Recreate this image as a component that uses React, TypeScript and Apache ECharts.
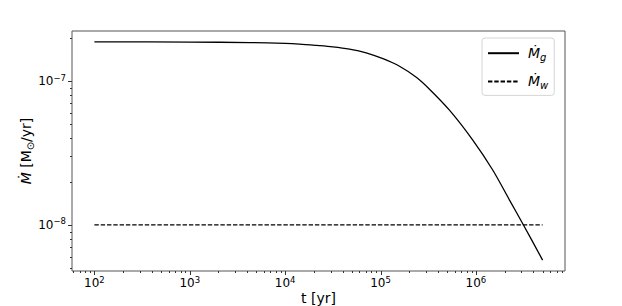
import React, { useEffect, useRef } from 'react';
import * as echarts from 'echarts';

// Gas accretion rate
const gasT = [100, 1000, 4230, 1.0e4, 1.41e4, 2.11e4, 3.16e4, 4.72e4, 7.07e4, 1.06e5, 1.58e5, 2.37e5, 3.26e5, 5.28e5, 9.27e5, 1.5e6, 2.25e6, 3.15e6, 5.0e6];
const gasMdot = [1.873e-7, 1.868e-7, 1.853e-7, 1.828e-7, 1.808e-7, 1.772e-7, 1.732e-7, 1.671e-7, 1.574e-7, 1.431e-7, 1.269e-7, 1.064e-7, 8.79e-8, 6.28e-8, 3.89e-8, 2.41e-8, 1.49e-8, 1.0e-8, 5.7e-9];
// Wind mass-loss rate
const windT = [100, 5.0e6];
const windMdot = [1e-8, 1e-8];

const xMajorTicks = [1e2, 1e3, 1e4, 1e5, 1e6];
const yMajorTicks = [1e-8, 1e-7];
const minorMultipliers = [2, 3, 4, 5, 6, 7, 8, 9];
const xDecades = [1e1, 1e2, 1e3, 1e4, 1e5, 1e6];
const yDecades = [1e-9, 1e-8, 1e-7];

const FONT = 'DejaVu Sans';
const TICK = '#333';
const SPINE = '#555';

const lg = Math.log10;
const allT = [...gasT, ...windT];
const allM = [...gasMdot, ...windMdot];
const lx0 = lg(Math.min(...allT));
const lx1 = lg(Math.max(...allT));
const ly0 = lg(Math.min(...allM));
const ly1 = lg(Math.max(...allM));
const xMin = Math.pow(10, lx0 - 0.05 * (lx1 - lx0));
const xMax = Math.pow(10, lx1 + 0.05 * (lx1 - lx0));
const yMin = Math.pow(10, ly0 - 0.05 * (ly1 - ly0));
const yMax = Math.pow(10, ly1 + 0.05 * (ly1 - ly0));

const minorOf = (decades: number[], lo: number, hi: number) =>
  decades.flatMap((d) => minorMultipliers.map((m) => m * d)).filter((v) => v > lo && v < hi);
const xMinorTicks = minorOf(xDecades, xMin, xMax);
const yMinorTicks = minorOf(yDecades, yMin, yMax);

const powLabel = (v: number) => {
  const e = lg(v);
  const r = Math.round(e);
  if (Math.abs(e - r) > 1e-6) return '';
  return `{b|10}{s|${r < 0 ? '\u2212' + -r : r}}`;
};

const labelRich = {
  b: { fontSize: 12, lineHeight: 16, fontFamily: FONT, color: '#000' },
  s: { fontSize: 8.5, lineHeight: 8, verticalAlign: 'top', fontFamily: FONT, color: '#000' },
};

const tickSeries = (data: number[][], axis: 'x' | 'y', len: number) => ({
  type: 'custom',
  silent: true,
  clip: false,
  z: 5,
  data,
  renderItem: (params: any, api: any) => {
    const p = api.coord([api.value(0), api.value(1)]);
    const cs = params.coordSys;
    if (axis === 'x') {
      const x = Math.round(p[0]) + 0.5;
      const y0 = cs.y + cs.height;
      return { type: 'line', shape: { x1: x, y1: y0, x2: x, y2: y0 + len }, style: { stroke: TICK, lineWidth: 1 } };
    }
    const y = Math.round(p[1]) + 0.5;
    const x0 = cs.x;
    return { type: 'line', shape: { x1: x0 - len, y1: y, x2: x0, y2: y }, style: { stroke: TICK, lineWidth: 1 } };
  },
});

const option: any = {
  animation: false,
  backgroundColor: '#fff',
  textStyle: { fontFamily: FONT },
  grid: {
    left: 72,
    top: 31,
    width: 493,
    height: 240,
    show: true,
    borderColor: SPINE,
    borderWidth: 1,
    backgroundColor: 'transparent',
    containLabel: false,
    outerBoundsMode: 'none',
  },
  legend: {
    data: ['Mg', 'Mw'],
    orient: 'vertical',
    left: 482,
    top: 38,
    padding: [8, 6, 5, 5],
    itemGap: 12,
    itemWidth: 31,
    itemHeight: 18,
    backgroundColor: '#fff',
    borderColor: '#d5d5d5',
    borderWidth: 1,
    borderRadius: 3,
    itemStyle: { opacity: 0 },
    formatter: (name: string) => (name === 'Mg' ? '{m|\u1E40}{s|g}' : '{m|\u1E40}{s|w}'),
    textStyle: {
      color: '#000',
      fontFamily: FONT,
      rich: {
        m: { fontStyle: 'italic', fontSize: 14, lineHeight: 18, padding: [0, 0, 0, 4], fontFamily: FONT, color: '#000' },
        s: { fontStyle: 'italic', fontSize: 10, lineHeight: 10, verticalAlign: 'bottom', fontFamily: FONT, color: '#000' },
      },
    },
  },
  xAxis: {
    type: 'log',
    logBase: 10,
    min: xMin,
    max: xMax,
    splitLine: { show: false },
    axisLine: { show: false },
    axisTick: { show: false },
    minorTick: { show: false },
    axisLabel: { margin: 4, formatter: powLabel, rich: labelRich, color: '#000' },
    name: 't [yr]',
    nameLocation: 'middle',
    nameGap: 20,
    nameMoveOverlap: false,
    nameTextStyle: { fontSize: 14, color: '#000', fontFamily: FONT },
  },
  yAxis: {
    type: 'log',
    logBase: 10,
    min: yMin,
    max: yMax,
    splitLine: { show: false },
    axisLine: { show: false },
    axisTick: { show: false },
    minorTick: { show: false },
    axisLabel: { margin: 6, formatter: powLabel, rich: labelRich, color: '#000' },
    name: '{i|\u1E40} [M{sub|\u2299}/yr]',
    nameLocation: 'middle',
    nameRotate: 90,
    nameGap: 37,
    nameMoveOverlap: false,
    nameTextStyle: {
      fontSize: 14,
      lineHeight: 18,
      color: '#000',
      fontFamily: FONT,
      rich: {
        i: { fontStyle: 'italic', fontSize: 14, lineHeight: 18, fontFamily: FONT, color: '#000' },
        sub: { fontSize: 10, lineHeight: 10, verticalAlign: 'bottom', fontFamily: FONT, color: '#000' },
      },
    },
  },
  series: [
    {
      name: 'Mg',
      type: 'line',
      data: gasT.map((t, i) => [t, gasMdot[i]]),
      symbol: 'none',
      showSymbol: false,
      smooth: 0.3,
      itemStyle: { color: '#000' },
      lineStyle: { color: '#000', width: 1.3 },
      z: 3,
    },
    {
      name: 'Mw',
      type: 'line',
      data: windT.map((t, i) => [t, windMdot[i]]),
      symbol: 'none',
      showSymbol: false,
      itemStyle: { color: '#000' },
      lineStyle: { color: '#000', width: 1.3, type: [4.4, 1.9] },
      z: 3,
    },
    tickSeries(xMajorTicks.map((v) => [v, yMin]), 'x', 4),
    tickSeries(xMinorTicks.map((v) => [v, yMin]), 'x', 2),
    tickSeries(yMajorTicks.map((v) => [xMin, v]), 'y', 4),
    tickSeries(yMinorTicks.map((v) => [xMin, v]), 'y', 2),
  ],
};

export default function App() {
  const ref = useRef<HTMLDivElement>(null);
  useEffect(() => {
    const chart = echarts.init(ref.current!, null, { renderer: 'svg' });
    chart.setOption(option);
    return () => chart.dispose();
  }, []);
  return <div ref={ref} style={{ position: 'absolute', left: 0, top: 0, width: 622, height: 306 }} />;
}
